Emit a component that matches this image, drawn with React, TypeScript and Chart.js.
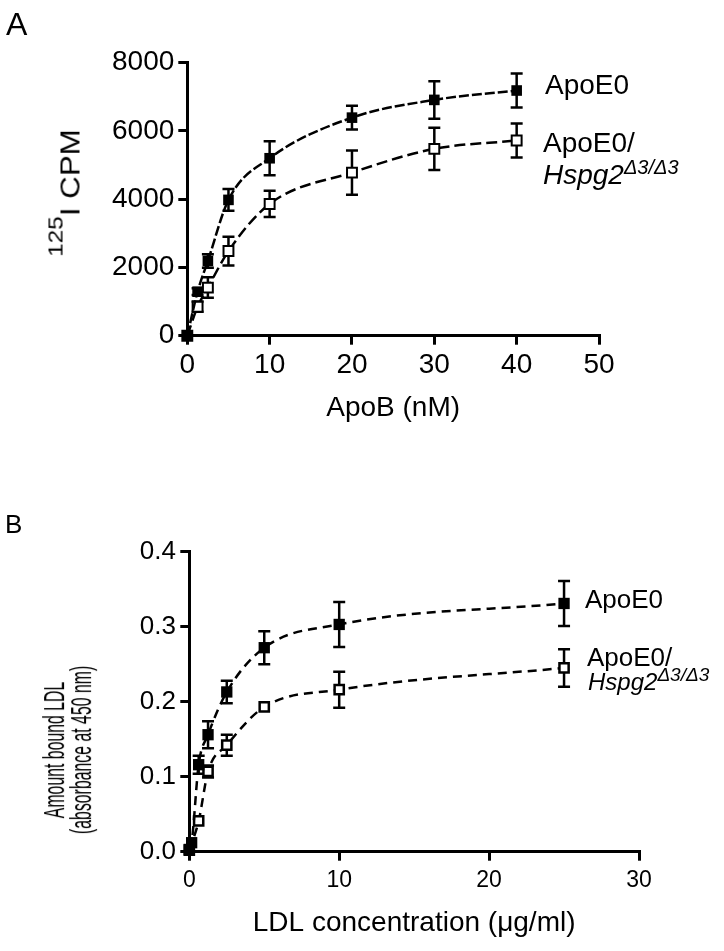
import React, { useEffect, useRef } from "react";
import { Chart, registerables } from "chart.js";
Chart.register(...registerables);

const FONT = '"Liberation Sans", Arial, Helvetica, sans-serif';

// ---------- Panel A data ----------
const apoBConc = [0, 1.25, 2.5, 5, 10, 20, 30, 40];
const cpmApoE0 = [0, 1290, 2190, 3980, 5200, 6390, 6910, 7185];
const cpmApoE0Err = [0, 100, 200, 320, 500, 350, 550, 500];
const cpmHspg2 = [0, 850, 1410, 2480, 3860, 4780, 5475, 5720];
const cpmHspg2Err = [0, 150, 300, 420, 385, 650, 620, 500];
const aXTicks = [0, 10, 20, 30, 40, 50];
const aYTicks = [0, 2000, 4000, 6000, 8000];

// ---------- Panel B data ----------
const ldlConcApoE0 = [0, 0.156, 0.625, 1.25, 2.5, 5, 10, 25];
const absApoE0 = [0.003, 0.012, 0.116, 0.156, 0.213, 0.272, 0.303, 0.331];
const absApoE0Err = [0, 0, 0.012, 0.018, 0.015, 0.022, 0.03, 0.03];
const ldlConcHspg2 = [0, 0.625, 1.25, 2.5, 5, 10, 25];
const absHspg2 = [0.002, 0.041, 0.107, 0.142, 0.193, 0.216, 0.245];
const absHspg2Err = [0, 0, 0.008, 0.014, 0, 0.024, 0.025];
const bXTicks = [0, 10, 20, 30];
const bYTicks = [0, 0.1, 0.2, 0.3, 0.4];

const errorBarPlugin = {
  id: "errbars",
  beforeDatasetsDraw(chart: any) {
    const ctx = chart.ctx;
    const xs = chart.scales.x;
    const ys = chart.scales.y;
    chart.data.datasets.forEach((ds: any) => {
      if (!ds.errors) return;
      ctx.save();
      ctx.strokeStyle = "#000";
      ctx.lineWidth = ds.errWidth || 2.5;
      ctx.setLineDash([]);
      const cap = ds.capHalf || 6;
      ds.data.forEach((p: any, i: number) => {
        const e = ds.errors[i];
        if (!e) return;
        const px = xs.getPixelForValue(p.x);
        const top = ys.getPixelForValue(p.y + e);
        const bot = ys.getPixelForValue(p.y - e);
        ctx.beginPath();
        ctx.moveTo(px, top);
        ctx.lineTo(px, bot);
        ctx.moveTo(px - cap, top);
        ctx.lineTo(px + cap, top);
        ctx.moveTo(px - cap, bot);
        ctx.lineTo(px + cap, bot);
        ctx.stroke();
      });
      ctx.restore();
    });
  },
};

function makeDs(xs: number[], ys: number[], errs: number[], filled: boolean, dash: number[], r: number, bw: number) {
  return {
    data: xs.map((x, i) => ({ x, y: ys[i] })),
    errors: errs,
    borderColor: "#000",
    borderWidth: 2.5,
    borderDash: dash,
    cubicInterpolationMode: "monotone",
    pointStyle: "rect",
    pointRadius: r,
    pointHoverRadius: r,
    pointBackgroundColor: filled ? "#000" : "#fff",
    pointBorderColor: "#000",
    pointBorderWidth: filled ? 0 : bw,
    clip: false,
    fill: false,
  };
}

function axis(opts: any) {
  const { min, max, ticks, fontSize, pad, title, titleSize, titlePadBottom, fit, isX, fmt } = opts;
  const s: any = {
    type: "linear",
    min,
    max,
    afterBuildTicks: (sc: any) => {
      sc.ticks = ticks.map((v: number) => ({ value: v }));
    },
    ticks: {
      font: { family: FONT, size: fontSize },
      color: "#000",
      padding: pad,
      maxRotation: 0,
      autoSkip: false,
      callback: fmt || ((v: any) => String(v)),
    },
    grid: { drawOnChartArea: false, drawTicks: true, tickLength: 9, color: "#000", lineWidth: 3 },
    border: { color: "#000", width: 3 },
    afterFit: (sc: any) => {
      if (isX) sc.height = fit;
      else sc.width = fit;
    },
  };
  if (title) {
    s.title = {
      display: true,
      text: title,
      color: "#000",
      font: { family: FONT, size: titleSize },
      padding: { top: 0, bottom: titlePadBottom },
    };
  }
  return s;
}

function ChartA() {
  const ref = useRef<HTMLCanvasElement>(null);
  useEffect(() => {
    const chart = new Chart(ref.current as HTMLCanvasElement, {
      type: "line",
      data: {
        datasets: [
          makeDs(apoBConc, cpmApoE0, cpmApoE0Err, true, [10, 3], 7.5, 0) as any,
          makeDs(apoBConc, cpmHspg2, cpmHspg2Err, false, [11, 5], 7, 2) as any,
        ],
      },
      options: {
        animation: false,
        responsive: false,
        devicePixelRatio: 1,
        layout: { padding: { left: 0, right: 125, top: 62.7, bottom: 0 } },
        plugins: { legend: { display: false }, tooltip: { enabled: false } },
        scales: {
          x: axis({ min: 0, max: 50, ticks: aXTicks, fontSize: 28, pad: 3.5, title: "ApoB (nM)", titleSize: 28, titlePadBottom: 5, fit: 94.3, isX: true }),
          y: axis({ min: 0, max: 8000, ticks: aYTicks, fontSize: 28, pad: 4, fit: 187.3, isX: false }),
        },
      } as any,
      plugins: [errorBarPlugin],
    });
    return () => chart.destroy();
  }, []);
  return <canvas ref={ref} width={724} height={430} style={{ position: "absolute", left: 0, top: 0 }} />;
}

function ChartB() {
  const ref = useRef<HTMLCanvasElement>(null);
  useEffect(() => {
    const chart = new Chart(ref.current as HTMLCanvasElement, {
      type: "line",
      data: {
        datasets: [
          makeDs(ldlConcApoE0, absApoE0, absApoE0Err, true, [9, 6], 8, 0) as any,
          makeDs(ldlConcHspg2, absHspg2, absHspg2Err, false, [9, 6], 6.5, 2.5) as any,
        ],
      },
      options: {
        animation: false,
        responsive: false,
        devicePixelRatio: 1,
        layout: { padding: { left: 0, right: 85, top: 81.7, bottom: 0 } },
        plugins: { legend: { display: false }, tooltip: { enabled: false } },
        scales: {
          x: axis({ min: 0, max: 30, ticks: bXTicks, fontSize: 23, pad: 6.5, title: "LDL concentration (\u03bcg/ml)", titleSize: 28, titlePadBottom: 10.7, fit: 99.3, isX: true }),
          y: axis({ min: 0, max: 0.4, ticks: bYTicks, fontSize: 26, pad: 4.3, fit: 189.3, isX: false, fmt: (v: any) => Number(v).toFixed(1) }),
        },
      } as any,
      plugins: [errorBarPlugin],
    });
    return () => chart.destroy();
  }, []);
  return <canvas ref={ref} width={724} height={481} style={{ position: "absolute", left: 0, top: 470 }} />;
}

function Txt(props: { x: number; baseline: number; fs: number; italic?: boolean; children: any }) {
  const { x, baseline, fs, italic, children } = props;
  return (
    <div
      style={{
        position: "absolute",
        left: x,
        top: baseline - 0.8465 * fs,
        fontSize: fs,
        lineHeight: `${fs}px`,
        fontStyle: italic ? "italic" : "normal",
        whiteSpace: "nowrap",
        color: "#000",
      }}
    >
      {children}
    </div>
  );
}

function Sup(props: { fs: number; raise: number; italic?: boolean; children: any }) {
  return (
    <span
      style={{
        fontSize: props.fs,
        position: "relative",
        top: -props.raise,
        lineHeight: 0,
        fontStyle: props.italic ? "italic" : "normal",
      }}
    >
      {props.children}
    </span>
  );
}

export default function App() {
  return (
    <div
      style={{
        position: "absolute",
        left: 0,
        top: 0,
        width: 724,
        height: 951,
        background: "#fff",
        fontFamily: FONT,
        color: "#000",
        overflow: "hidden",
      }}
    >
      <ChartA />
      <ChartB />

      {/* Panel letters */}
      <Txt x={6} baseline={35} fs={32}>A</Txt>
      <Txt x={5} baseline={533} fs={26}>B</Txt>

      {/* Panel A y-axis title */}
      <div
        style={{
          position: "absolute",
          left: 71,
          top: 192.5,
          transform: "translate(-50%,-50%) rotate(-90deg) scaleX(1.16)",
          whiteSpace: "nowrap",
          fontSize: 27,
          lineHeight: "27px",
        }}
      >
        <Sup fs={21} raise={17}>125</Sup>I CPM
      </div>

      {/* Panel B y-axis title */}
      <div
        style={{
          position: "absolute",
          left: 68,
          top: 750,
          transform: "translate(-50%,-50%) rotate(-90deg) scale(0.72,1.3)",
          whiteSpace: "nowrap",
          textAlign: "center",
          fontSize: 22,
          lineHeight: "21px",
        }}
      >
        Amount bound LDL
        <br />
        (absorbance at 450 nm)
      </div>

      {/* Panel A series labels */}
      <Txt x={545} baseline={95} fs={28}>ApoE0</Txt>
      <Txt x={543} baseline={153} fs={28}>ApoE0/</Txt>
      <Txt x={543} baseline={185} fs={28} italic>
        Hspg2<Sup fs={20} raise={10} italic>{"\u03943/\u03943"}</Sup>
      </Txt>

      {/* Panel B series labels */}
      <Txt x={585} baseline={608} fs={26}>ApoE0</Txt>
      <Txt x={587} baseline={666} fs={26}>ApoE0/</Txt>
      <Txt x={588} baseline={690} fs={24} italic>
        Hspg2<Sup fs={19} raise={9} italic>{"\u03943/\u03943"}</Sup>
      </Txt>
    </div>
  );
}
